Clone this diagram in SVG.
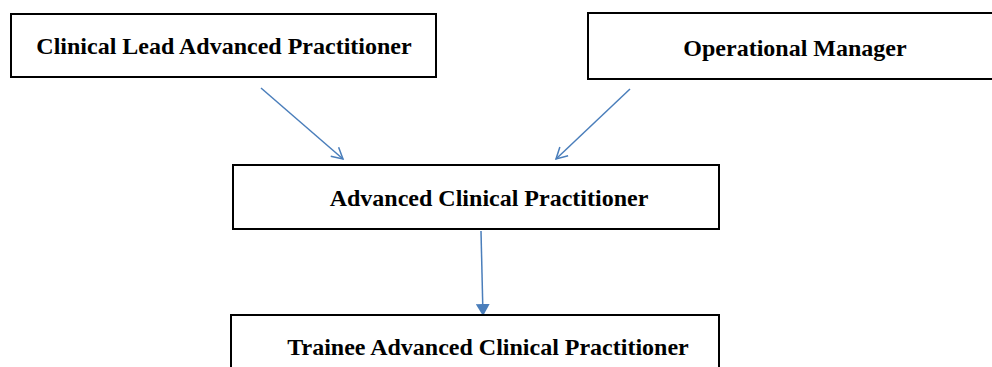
<svg xmlns="http://www.w3.org/2000/svg" width="992" height="367" viewBox="0 0 992 367">
<style>
.box{fill:#fff;stroke:#000;stroke-width:2}
.lbl{font-family:"Liberation Serif","Times New Roman",serif;font-weight:bold;font-size:24px;text-anchor:middle;fill:#000}
.conn{stroke:#4a7ebb;stroke-width:1.5;fill:none}
</style>
<defs>
<marker id="open" markerWidth="14" markerHeight="14" refX="12" refY="7" orient="auto" markerUnits="userSpaceOnUse">
<path d="M1,1 L12,7 L1,13" fill="none" stroke="#4a7ebb" stroke-width="1.5"/>
</marker>
<marker id="solid" markerWidth="14" markerHeight="14" refX="12" refY="7" orient="auto" markerUnits="userSpaceOnUse">
<path d="M0,0 L12,7 L0,14 Z" fill="#4a7ebb"/>
</marker>
</defs>
<g id="connectors">
<line class="conn" x1="261" y1="88" x2="343" y2="159" marker-end="url(#open)"/>
<line class="conn" x1="630" y1="89" x2="556" y2="159" marker-end="url(#open)"/>
<line class="conn" x1="481" y1="231" x2="483" y2="316" marker-end="url(#solid)"/>
</g>
<g id="clinical-lead">
<rect class="box" x="11" y="14" width="425" height="63"/>
<text class="lbl" x="224" y="54">Clinical Lead Advanced Practitioner</text>
</g>
<g id="operational-manager">
<rect class="box" x="588" y="13" width="420" height="66"/>
<text class="lbl" x="795" y="56">Operational Manager</text>
</g>
<g id="acp">
<rect class="box" x="233" y="165" width="486" height="64"/>
<text class="lbl" x="489" y="206">Advanced Clinical Practitioner</text>
</g>
<g id="trainee">
<rect class="box" x="231" y="315" width="488" height="70"/>
<text class="lbl" x="488" y="355">Trainee Advanced Clinical Practitioner</text>
</g>
</svg>
